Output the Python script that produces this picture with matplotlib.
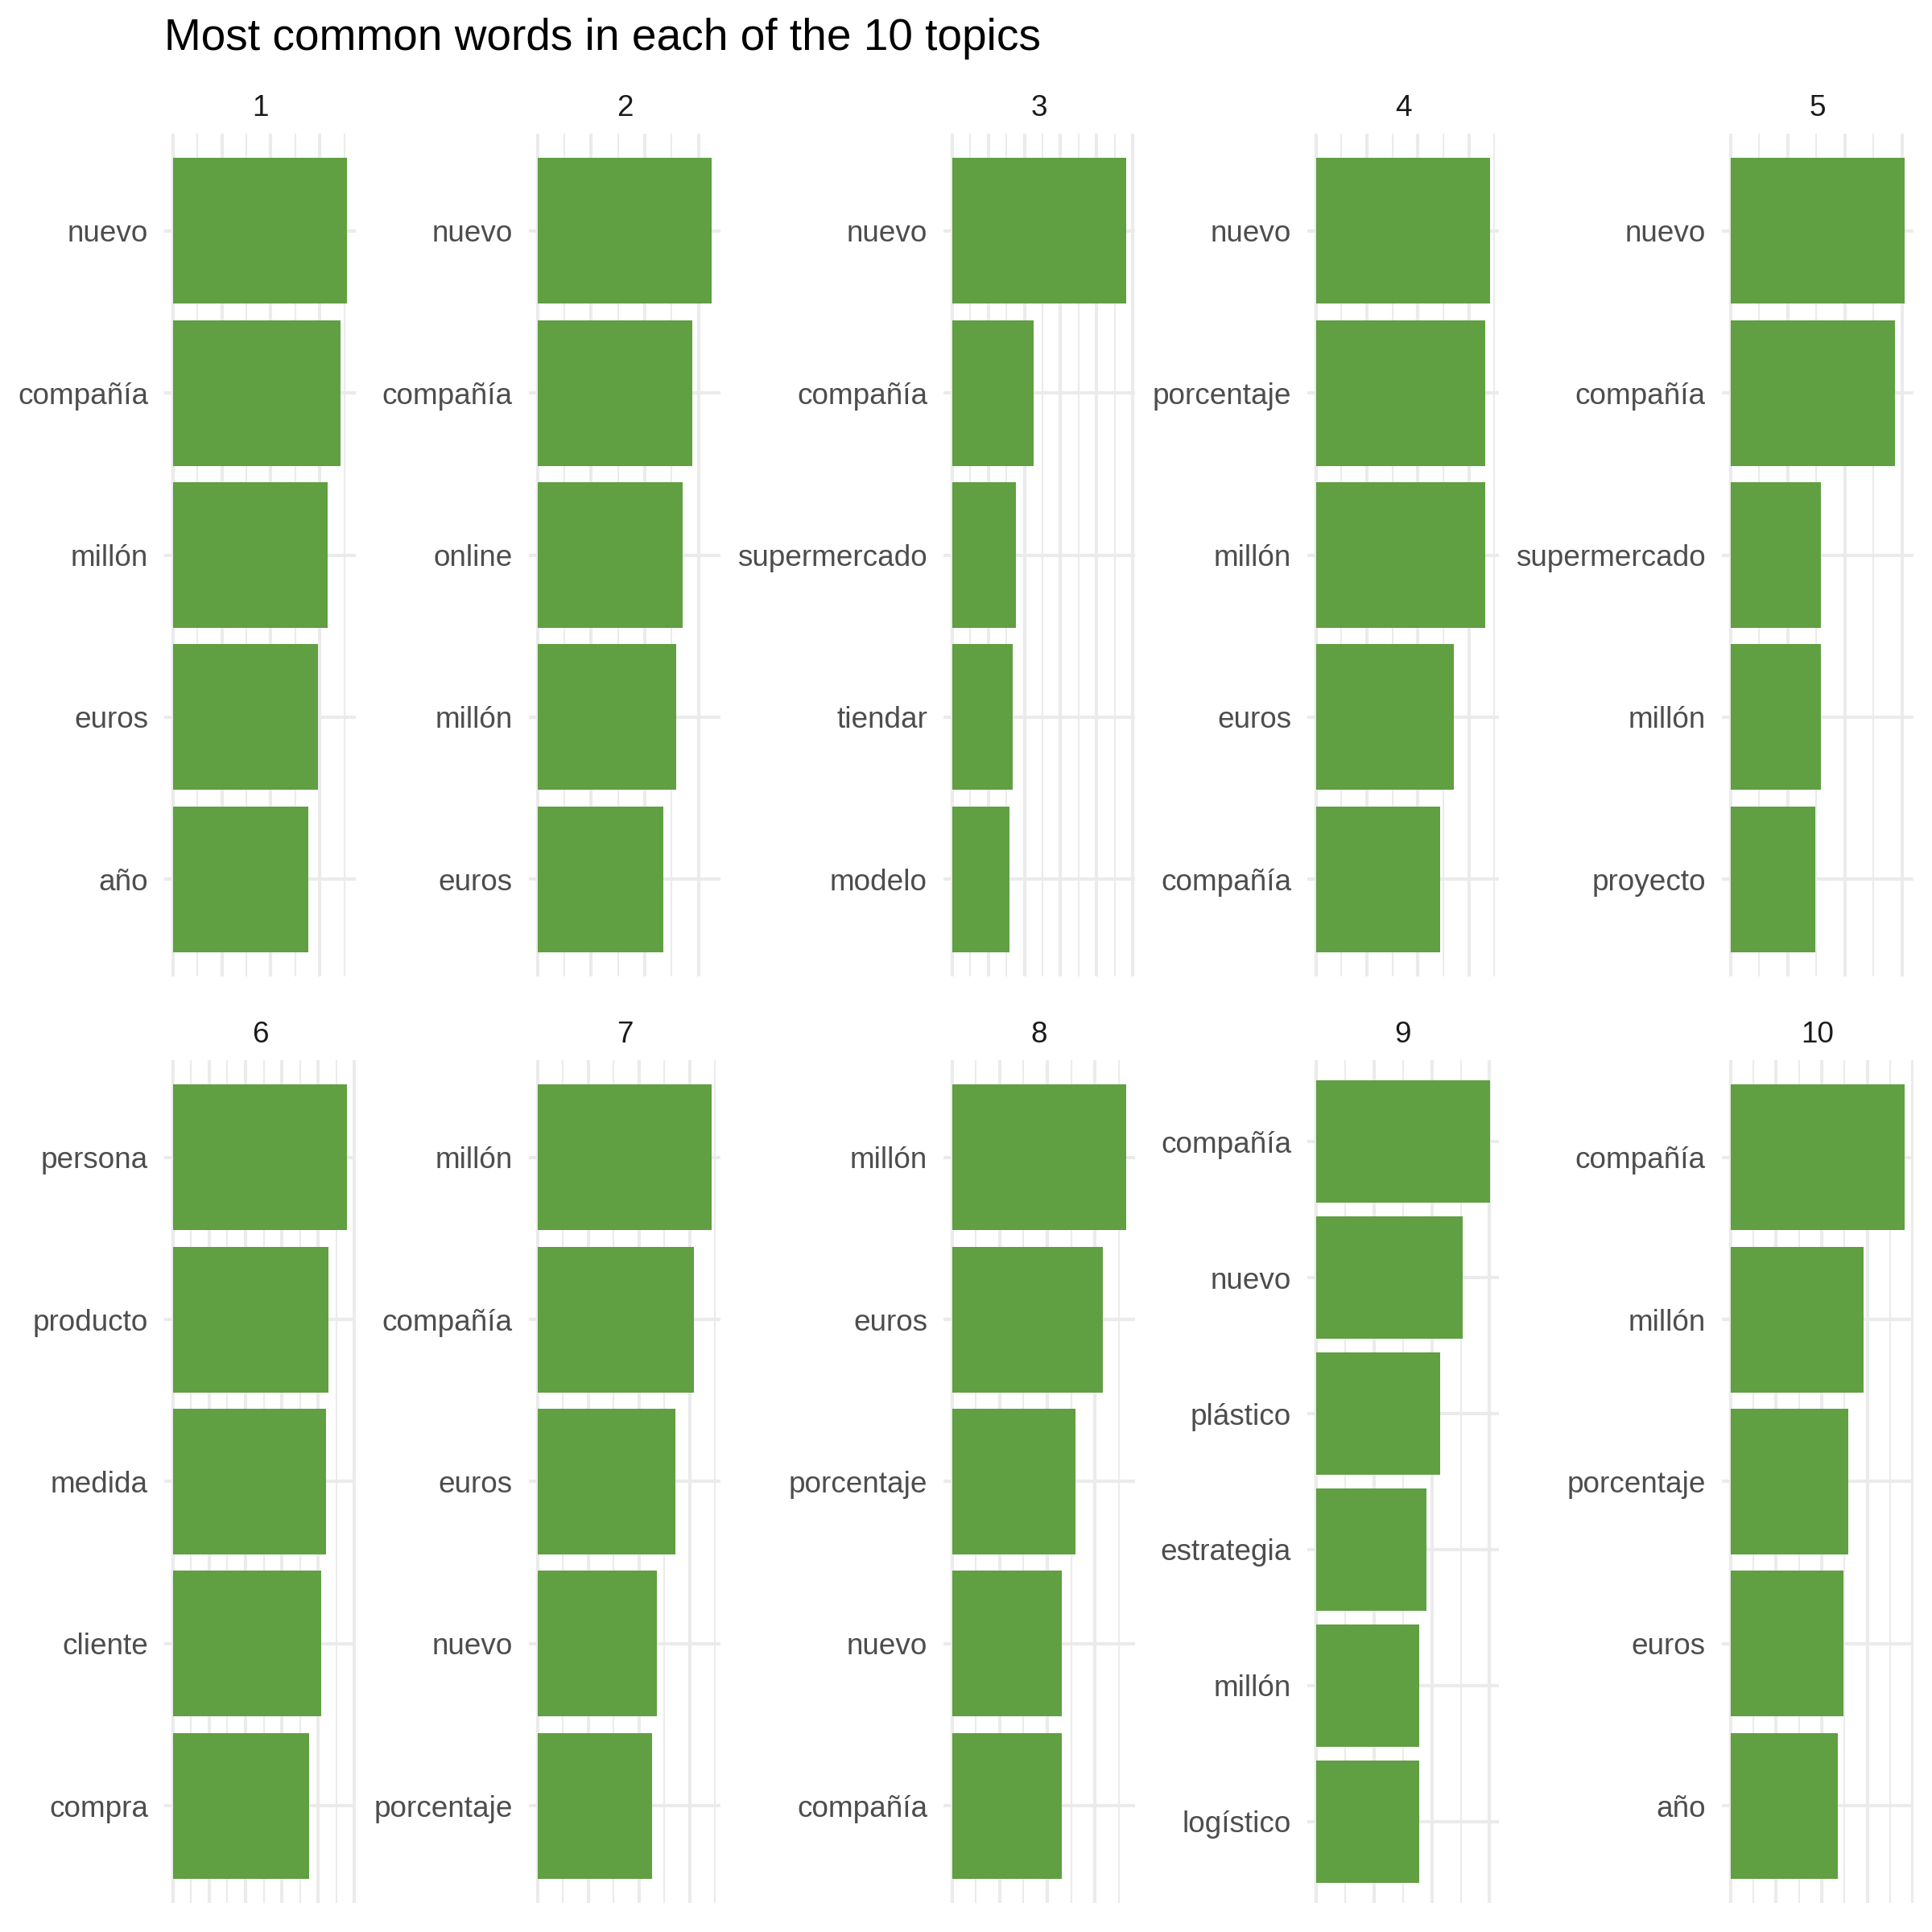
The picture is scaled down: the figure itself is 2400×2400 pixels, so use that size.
import matplotlib
matplotlib.use("Agg")
import matplotlib.pyplot as plt
from matplotlib.ticker import MultipleLocator

plt.rcParams["font.family"] = ["Liberation Sans", "DejaVu Sans"]

# ----------------- DATA -----------------
topics = [1, 2, 3, 4, 5, 6, 7, 8, 9, 10]

words_1 = ["nuevo", "compañía", "millón", "euros", "año"]
beta_1 = [0.0356, 0.0343, 0.0317, 0.0297, 0.0277]
words_2 = ["nuevo", "compañía", "online", "millón", "euros"]
beta_2 = [0.0325, 0.0289, 0.0271, 0.0259, 0.0235]
words_3 = ["nuevo", "compañía", "supermercado", "tiendar", "modelo"]
beta_3 = [0.0482, 0.0226, 0.0176, 0.0167, 0.0158]
words_4 = ["nuevo", "porcentaje", "millón", "euros", "compañía"]
beta_4 = [0.0342, 0.0332, 0.0332, 0.0270, 0.0244]
words_5 = ["nuevo", "compañía", "supermercado", "millón", "proyecto"]
beta_5 = [0.0305, 0.0288, 0.0158, 0.0158, 0.0148]
words_6 = ["persona", "producto", "medida", "cliente", "compra"]
beta_6 = [0.0480, 0.0428, 0.0422, 0.0409, 0.0376]
words_7 = ["millón", "compañía", "euros", "nuevo", "porcentaje"]
beta_7 = [0.0344, 0.0308, 0.0272, 0.0236, 0.0226]
words_8 = ["millón", "euros", "porcentaje", "nuevo", "compañía"]
beta_8 = [0.0366, 0.0316, 0.0259, 0.0231, 0.0231]
words_9 = ["compañía", "nuevo", "plástico", "estrategia", "millón", "logístico"]
beta_9 = [0.0301, 0.0254, 0.0214, 0.0191, 0.0178, 0.0178]
words_10 = ["compañía", "millón", "porcentaje", "euros", "año"]
beta_10 = [0.0382, 0.0292, 0.0258, 0.0247, 0.0236]

all_words = [words_1, words_2, words_3, words_4, words_5,
             words_6, words_7, words_8, words_9, words_10]
all_beta = [beta_1, beta_2, beta_3, beta_4, beta_5,
            beta_6, beta_7, beta_8, beta_9, beta_10]

# ----------------- LAYOUT -----------------
W = 2400
BAR_COLOR = "#609F42"
GRID = "#EBEBEB"

col_left = [204, 657, 1172, 1624, 2139]
panel_w = 238
row_top = [166, 1317]
panel_h = 1047

fig = plt.figure(figsize=(12, 12), dpi=200)

fig.text(204 / W, 1 - 62 / W, "Most common words in each of the 10 topics",
         fontsize=19.8, color="black", ha="left", va="baseline")

for i, topic in enumerate(topics):
    r, c = divmod(i, 5)
    x0 = col_left[c] / W
    y0 = 1 - (row_top[r] + panel_h) / W
    ax = fig.add_axes([x0, y0, panel_w / W, panel_h / W])

    words = all_words[i]
    beta = all_beta[i]
    n = len(words)
    ypos = list(range(n, 0, -1))
    ax.barh(ypos, beta, height=0.9, color=BAR_COLOR, zorder=2)

    mx = max(beta)
    ax.set_xlim(-0.05 * mx, 1.05 * mx)
    ax.set_ylim(0.4, n + 0.6)
    ax.set_yticks(ypos)
    ax.set_yticklabels(words)
    ax.xaxis.set_major_locator(MultipleLocator(0.01))
    ax.xaxis.set_minor_locator(MultipleLocator(0.005))
    ax.set_xticklabels([])
    ax.tick_params(axis="both", which="both", length=0)
    ax.tick_params(axis="y", labelsize=13.3, labelcolor="#4D4D4D", pad=7.2)

    ax.grid(True, axis="x", which="major", color=GRID, linewidth=1.5, zorder=0)
    ax.grid(True, axis="x", which="minor", color=GRID, linewidth=0.75, zorder=0)
    ax.grid(True, axis="y", which="major", color=GRID, linewidth=1.5, zorder=0)
    ax.set_axisbelow(True)
    for s in ax.spines.values():
        s.set_visible(False)

    strip_base = [144, 1295][r]
    fig.text((col_left[c] + panel_w / 2) / W, 1 - strip_base / W, str(topic),
             fontsize=13.3, color="#1A1A1A", ha="center", va="baseline")

fig.savefig("out.png", dpi=200, facecolor="white")
